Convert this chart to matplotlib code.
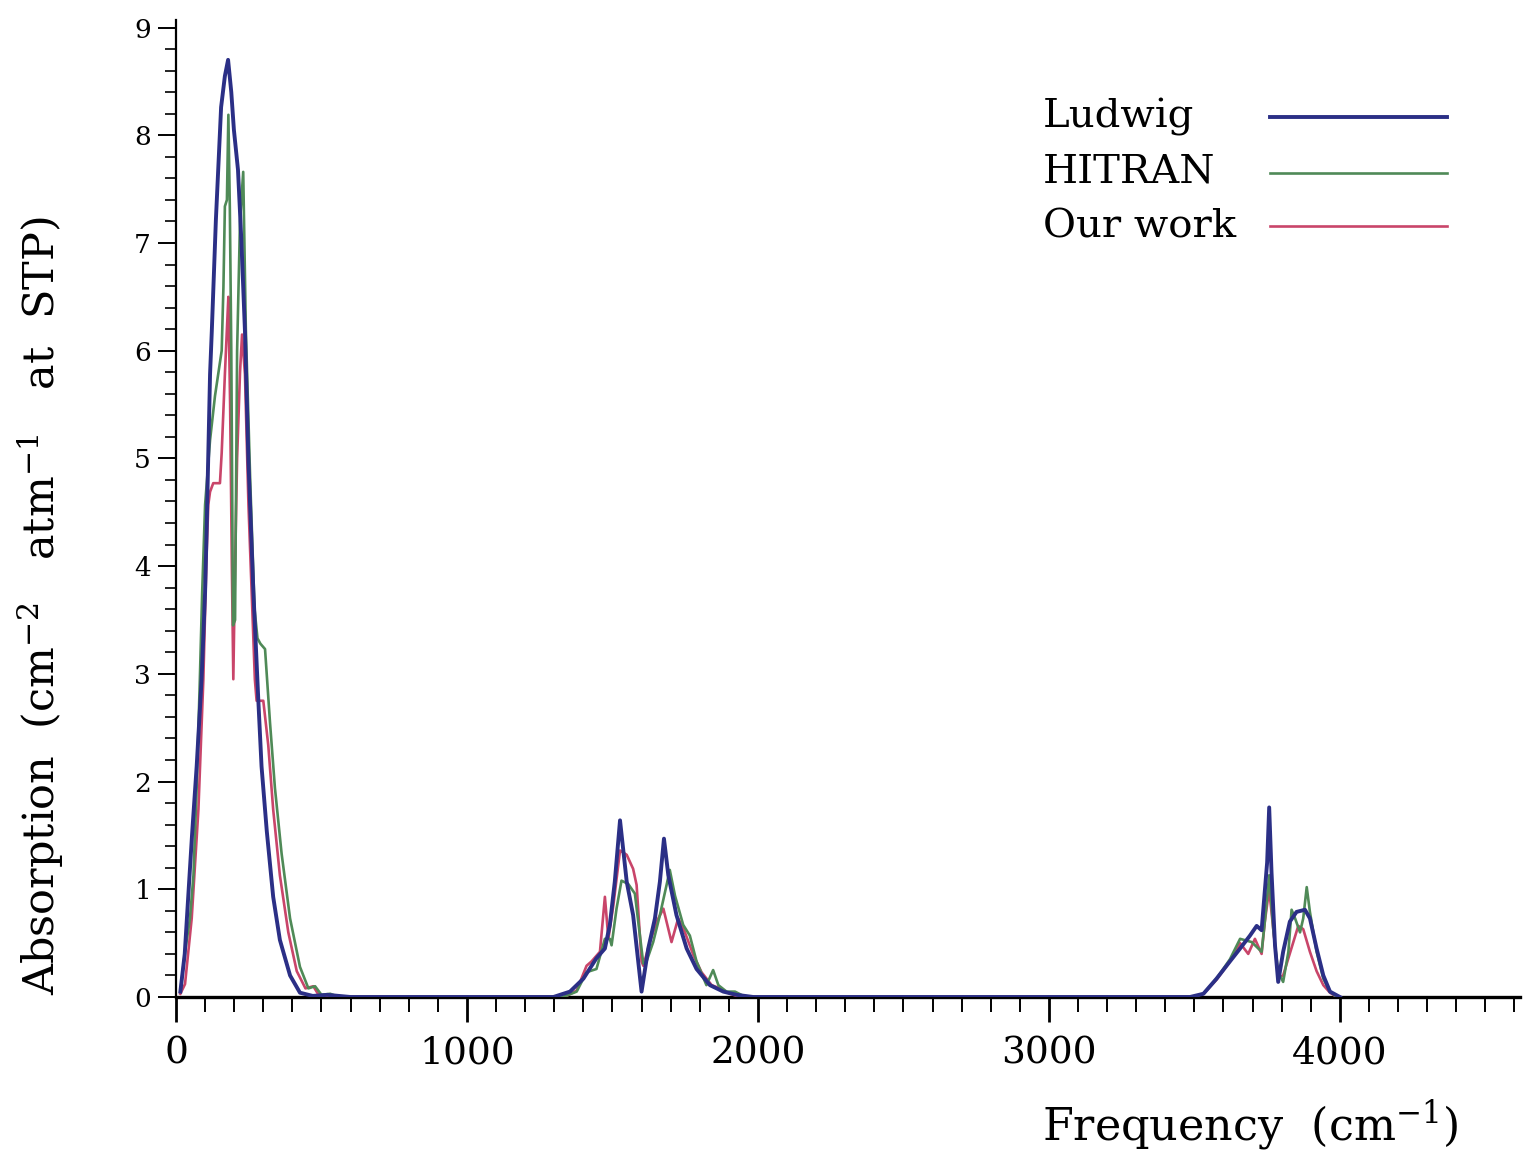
import matplotlib
matplotlib.use("Agg")
import matplotlib.pyplot as plt
from matplotlib.lines import Line2D
from matplotlib.ticker import MultipleLocator

# ---------------- data ----------------
ludwig_freq = [15, 30, 42, 55, 71, 88, 100, 105, 117, 123, 137, 155, 168, 179, 190, 199,
               213, 225, 237, 249, 266, 283, 294, 312, 334, 357, 392, 426, 470, 520, 560, 600,
               1297, 1354, 1400, 1445, 1474, 1491, 1508, 1526, 1549, 1571, 1600, 1623, 1646,
               1663, 1677, 1692, 1720, 1755, 1789, 1835, 1881, 1927, 1984,
               3485, 3531, 3576, 3622, 3657, 3691, 3714, 3731, 3750, 3757, 3765, 3777, 3788,
               3805, 3828, 3851, 3880, 3897, 3920, 3943, 3966, 4000]
ludwig_vals = [0.05, 0.40, 0.93, 1.50, 2.14, 2.95, 3.76, 4.30, 5.78, 6.18, 7.21, 8.26, 8.55,
               8.70, 8.40, 8.05, 7.68, 7.00, 6.18, 4.97, 3.76, 2.75, 2.14, 1.54, 0.93, 0.53,
               0.20, 0.04, 0.01, 0.02, 0.01, 0.0,
               0.0, 0.05, 0.17, 0.36, 0.45, 0.67, 1.07, 1.64, 1.07, 0.76, 0.05, 0.45, 0.73,
               1.07, 1.47, 1.13, 0.76, 0.45, 0.26, 0.11, 0.05, 0.02, 0.0,
               0.0, 0.03, 0.17, 0.33, 0.45, 0.57, 0.66, 0.62, 1.25, 1.76, 1.16, 0.48, 0.14,
               0.42, 0.70, 0.79, 0.81, 0.73, 0.45, 0.20, 0.05, 0.0]

hitran_freq = [15, 30, 48, 60, 71, 82, 90, 100, 117, 134, 157, 163, 168, 175, 180, 185, 190,
               196, 203, 210, 220, 231, 240, 255, 270, 280, 290, 306, 323, 340, 363, 392, 426,
               455, 478, 500, 530, 560,
               1330, 1377, 1411, 1445, 1474, 1491, 1497, 1514, 1531, 1554, 1577, 1606, 1617,
               1640, 1663, 1686, 1697, 1715, 1743, 1766, 1789, 1823, 1846, 1864, 1892, 1921,
               1950, 1990,
               3490, 3531, 3576, 3622, 3657, 3697, 3731, 3742, 3757, 3771, 3788, 3805, 3823,
               3834, 3846, 3863, 3874, 3886, 3897, 3920, 3943, 3966, 3989]
hitran_vals = [0.05, 0.40, 0.73, 1.13, 1.94, 2.95, 3.76, 4.57, 5.17, 5.58, 6.00, 6.59, 7.34,
               7.40, 8.19, 7.33, 6.00, 3.45, 3.50, 6.00, 7.20, 7.66, 6.20, 4.80, 3.60, 3.33,
               3.28, 3.23, 2.55, 1.94, 1.33, 0.73, 0.28, 0.08, 0.10, 0.02, 0.03, 0.0,
               0.0, 0.05, 0.23, 0.26, 0.54, 0.54, 0.48, 0.82, 1.08, 1.05, 0.96, 0.31, 0.33,
               0.51, 0.76, 1.04, 1.18, 0.94, 0.67, 0.57, 0.33, 0.11, 0.25, 0.11, 0.05, 0.05,
               0.01, 0.0,
               0.0, 0.03, 0.17, 0.35, 0.54, 0.51, 0.42, 0.70, 1.13, 0.63, 0.23, 0.14, 0.42,
               0.81, 0.73, 0.60, 0.73, 1.02, 0.79, 0.42, 0.17, 0.05, 0.0]

ourwork_freq = [15, 31, 54, 77, 94, 105, 111, 117, 128, 151, 157, 168, 175, 180, 186, 192,
                197, 203, 210, 220, 227, 237, 249, 260, 271, 277, 300, 317, 334, 357, 386,
                415, 445, 472, 490, 520,
                1335, 1377, 1411, 1428, 1457, 1474, 1486, 1503, 1526, 1549, 1571, 1583, 1600,
                1606, 1629, 1652, 1675, 1703, 1726, 1749, 1778, 1806, 1841, 1869, 1904, 1938,
                3490, 3531, 3576, 3622, 3657, 3685, 3708, 3731, 3742, 3757, 3771, 3788, 3805,
                3823, 3840, 3857, 3874, 3897, 3920, 3943, 3966, 3989]
ourwork_vals = [0.03, 0.12, 0.73, 1.74, 2.95, 4.10, 4.57, 4.69, 4.77, 4.77, 5.05, 5.78, 6.20,
                6.50, 5.50, 4.00, 2.95, 4.00, 5.00, 5.80, 6.15, 5.78, 4.57, 3.76, 2.95, 2.75,
                2.75, 2.34, 1.74, 1.13, 0.60, 0.24, 0.08, 0.10, 0.02, 0.0,
                0.0, 0.06, 0.29, 0.33, 0.42, 0.93, 0.54, 0.85, 1.36, 1.32, 1.19, 1.04, 0.33,
                0.29, 0.51, 0.70, 0.82, 0.51, 0.73, 0.60, 0.39, 0.23, 0.11, 0.08, 0.03, 0.0,
                0.0, 0.03, 0.16, 0.33, 0.50, 0.40, 0.54, 0.40, 0.70, 1.00, 0.63, 0.18, 0.20,
                0.36, 0.51, 0.66, 0.63, 0.42, 0.24, 0.11, 0.04, 0.0]

series_names = ["Ludwig", "HITRAN", "Our work"]
x_ticks = [0, 1000, 2000, 3000, 4000]
y_ticks = [0, 1, 2, 3, 4, 5, 6, 7, 8, 9]

# ---------------- figure ----------------
plt.rcParams["font.family"] = ["DejaVu Serif"]
plt.rcParams["mathtext.fontset"] = "dejavuserif"

fig = plt.figure(figsize=(15.23, 11.53), dpi=100)
fig.patch.set_facecolor("white")
ax = fig.add_axes([176 / 1523, 156 / 1153, 1344 / 1523, 977 / 1153])

c_blue = "#2b2f86"
c_green = "#4f8a57"
c_red = "#c9456a"
colors = [c_blue, c_green, c_red]
widths = [2.8, 1.9, 1.9]

ax.plot(ourwork_freq, ourwork_vals, color=c_red, lw=widths[2], label=series_names[2])
ax.plot(hitran_freq, hitran_vals, color=c_green, lw=widths[1], label=series_names[1])
ax.plot(ludwig_freq, ludwig_vals, color=c_blue, lw=widths[0], label=series_names[0])

ax.set_xlim(0, 4619)
ax.set_ylim(0, 9.07)

for s in ["top", "right"]:
    ax.spines[s].set_visible(False)
ax.spines["bottom"].set_linewidth(2.4)
ax.spines["left"].set_linewidth(1.6)
ax.spines["bottom"].set_zorder(1)

ax.set_xticks(x_ticks)
ax.set_yticks(y_ticks)
ax.xaxis.set_minor_locator(MultipleLocator(100))
ax.yaxis.set_minor_locator(MultipleLocator(0.2))
ax.tick_params(axis="x", which="major", direction="out", length=18, width=2.0,
               labelsize=27, pad=10)
ax.tick_params(axis="x", which="minor", direction="out", length=11, width=1.4)
ax.tick_params(axis="y", which="major", direction="out", length=13, width=1.4,
               labelsize=19, pad=5)
ax.tick_params(axis="y", which="minor", direction="out", length=8, width=1.2)

ax.text(0.799, -0.131, r"Frequency  (cm$^{-1}$)", transform=ax.transAxes,
        ha="center", va="center", fontsize=32)
ax.text(-0.101, 0.40, r"Absorption  (cm$^{-2}$   atm$^{-1}$   at  STP)",
        transform=ax.transAxes, ha="center", va="center", rotation=90, fontsize=31)

# legend (labels on the left, sample lines on the right)
label_x = 0.6451
label_base_y = [0.8895, 0.8332, 0.7769]
line_y = [0.9007, 0.8434, 0.7892]
for name, col, lw, ty, ly in zip(series_names, colors, widths, label_base_y, line_y):
    ax.text(label_x, ty, name, transform=ax.transAxes, ha="left", va="baseline",
            fontsize=29)
    ax.add_line(Line2D([0.814, 0.9457], [ly, ly], transform=ax.transAxes, color=col,
                       lw=lw, clip_on=False))

fig.savefig("out.png", dpi=100, facecolor="white")
